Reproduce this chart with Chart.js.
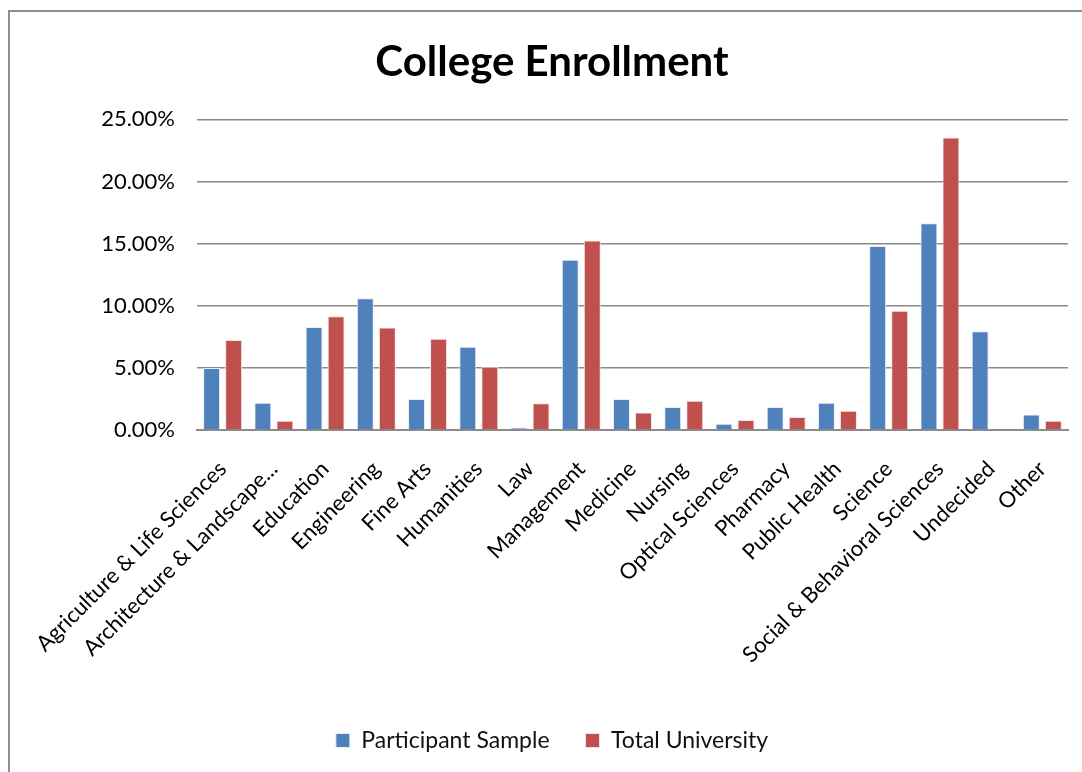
<!DOCTYPE html>
<html>
<head>
<meta charset="utf-8">
<script src="https://cdn.jsdelivr.net/npm/chart.js@4/dist/chart.umd.min.js"></script>
<style>
  html, body { margin: 0; padding: 0; background: #fff; overflow: hidden; }
  #frame { position: absolute; left: 8px; top: 10px; width: 1100px; height: 800px; border: 2px solid #8e8e8e; box-sizing: border-box; }
  #wrap { position: absolute; left: 0; top: 0; width: 1082px; height: 772px; }
</style>
</head>
<body>
<div id="frame"></div>
<div id="wrap"><canvas id="chart" width="1082" height="772"></canvas></div>
<script>
const colleges = [
  'Agriculture & Life Sciences', 'Architecture & Landscape...', 'Education', 'Engineering',
  'Fine Arts', 'Humanities', 'Law', 'Management', 'Medicine', 'Nursing',
  'Optical Sciences', 'Pharmacy', 'Public Health', 'Science',
  'Social & Behavioral Sciences', 'Undecided', 'Other'
]
// percent of students
const participantSample = [5.0, 2.2, 8.3, 10.6, 2.5, 6.7, 0.2, 13.7, 2.5, 1.85, 0.5, 1.85, 2.2, 14.8, 16.65, 7.95, 1.25]
const totalUniversity = [7.25, 0.75, 9.15, 8.25, 7.35, 5.1, 2.15, 15.25, 1.4, 2.35, 0.8, 1.05, 1.55, 9.6, 23.55, 0, 0.75]
const yTicks = [0, 5, 10, 15, 20, 25]

const font = 'Lato, "Open Sans", sans-serif'
const gridColor = '#8a8a8a'

const ctx = document.getElementById('chart')

new Chart(ctx, {
  type: 'bar',
  data: {
    labels: colleges,
    datasets: [
      {
        label: 'Participant Sample',
        data: participantSample,
        backgroundColor: '#4F81BD',
        borderColor: '#e8eef7',
        borderWidth: 1,
        categoryPercentage: 0.86,
        barPercentage: 0.77
      },
      {
        label: 'Total University',
        data: totalUniversity,
        backgroundColor: '#C0504D',
        borderColor: '#f3e2e2',
        borderWidth: 1,
        categoryPercentage: 0.86,
        barPercentage: 0.77
      }
    ]
  },
  options: {
    responsive: false,
    animation: false,
    layout: { padding: { left: 36, right: 14, top: 0, bottom: 10 } },
    plugins: {
      title: {
        display: true,
        text: 'College Enrollment',
        color: '#000',
        font: { family: font, size: 42, weight: 'bold' },
        padding: { top: 37, bottom: 32 }
      },
      legend: {
        position: 'bottom',
        labels: {
          color: '#111',
          font: { family: font, size: 23 },
          boxWidth: 14,
          boxHeight: 14,
          padding: 36
        }
      },
      tooltip: { enabled: false }
    },
    scales: {
      x: {
        grid: { display: false, drawOnChartArea: false },
        border: { display: true, color: gridColor, width: 2 },
        ticks: {
          color: '#000',
          font: { family: font, size: 22 },
          minRotation: 45,
          maxRotation: 45,
          autoSkip: false,
          padding: 18
        },
        afterFit: scale => { scale.height = 263 }
      },
      y: {
        min: 0,
        max: 25,
        afterBuildTicks: scale => { scale.ticks = yTicks.map(v => ({ value: v })) },
        grid: { color: gridColor, lineWidth: 1.5, drawTicks: false },
        border: { display: false },
        ticks: {
          color: '#000',
          font: { family: font, size: 22 },
          padding: 22,
          callback: v => v.toFixed(2) + '%'
        },
        afterFit: scale => { scale.width = 161 }
      }
    }
  }
})
</script>
</body>
</html>
